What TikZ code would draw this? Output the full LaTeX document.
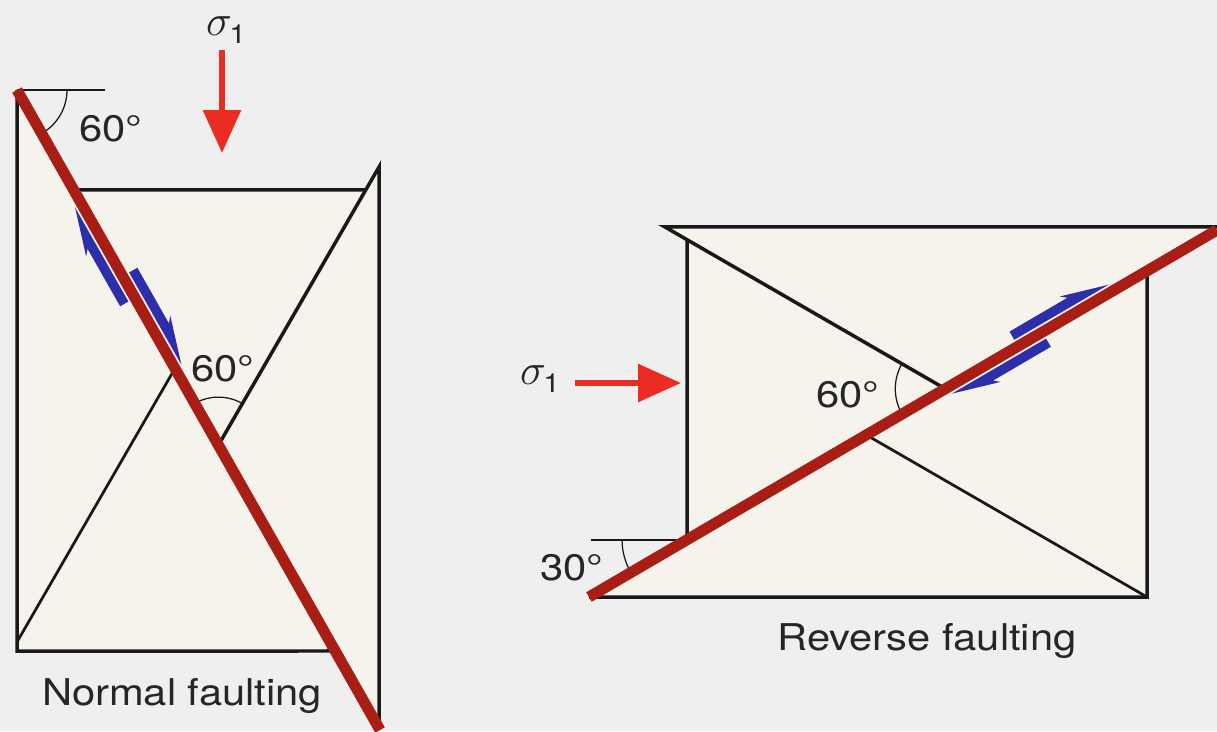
\documentclass[tikz,border=0pt]{standalone}
\usepackage{fontspec}
\setmainfont{TeX Gyre Heros}[FakeStretch=1.13]
\usetikzlibrary{arrows.meta,calc}
\definecolor{bgc}{RGB}{239,239,239}
\definecolor{blockc}{RGB}{245,243,236}
\definecolor{faultc}{RGB}{168,30,20}
\definecolor{stressc}{RGB}{234,44,34}
\definecolor{slipc}{RGB}{44,46,170}
\definecolor{textc}{RGB}{38,38,38}
\newcommand{\sigone}{{\fontsize{26}{30}\selectfont$\sigma$}\kern-1.5pt\raisebox{-5pt}{\fontsize{15}{18}\selectfont 1}}
\begin{document}
\begin{tikzpicture}[x=0.02cm,y=0.02cm,
  edge/.style={line width=0.07cm,black!90},
  refline/.style={line width=0.045cm,black!90},
  arcline/.style={line width=0.025cm,black!90},
  fault/.style={line width=0.22cm,faultc},
  stress/.style={line width=0.12cm,stressc,-{Triangle[length=0.86cm,width=0.74cm]}},
  slip/.style={fill=slipc},
  lbl/.style={inner sep=0pt,text=textc,font=\fontsize{21}{25}\selectfont}]
\fill[bgc] (0,0) rectangle (1217,731);
\useasboundingbox (0,0) rectangle (1217,731);

% ---------------- Normal faulting ----------------
\coordinate (A) at (17,641);
\coordinate (B) at (380,1);
\coordinate (HWbl) at (17,80);
\coordinate (HWr) at (420,80);
\coordinate (HWbr) at (intersection of A--B and HWbl--HWr);
\coordinate (FWl0) at (0,541);
\coordinate (FWr0) at (420,541);
\coordinate (FWtl) at (intersection of A--B and FWl0--FWr0);
\coordinate (Ctop) at (379,564);
\coordinate (Cdir) at ($(Ctop)+(240:400)$);
\coordinate (Cup) at (intersection of A--B and Ctop--Cdir);
\coordinate (FWtr) at (intersection of FWl0--FWr0 and Ctop--Cdir);
\coordinate (RB) at (379,3);
\coordinate (Clow) at (17,89);
\coordinate (Clowdir) at ($(Clow)+(60:400)$);
\coordinate (Cx) at (intersection of A--B and Clow--Clowdir);
\coordinate (Href) at (105,641);

\fill[blockc] (A) -- (HWbl) -- (HWbr) -- cycle;
\fill[blockc] (FWtl) -- (FWtr) -- (Ctop) -- (RB) -- (B) -- cycle;
\draw[edge] (A) -- (HWbl) -- (HWbr);
\draw[edge] (FWtl) -- (FWtr);
\draw[edge] (Cup) -- (Ctop) -- (RB);
\draw[edge,line width=0.055cm] (Clow) -- (Cx);
\draw[refline] (A) -- (Href);
\draw[arcline] ($(A)+(0:50)$) arc[start angle=0,end angle=-60.44,radius=50];
\draw[arcline] ($(Cup)+(60:48)$) arc[start angle=60,end angle=119.56,radius=48];
\draw[fault] (A) -- (B);

\begin{scope}[shift={(A)},rotate=-60.44]
  \fill[slip] (239,-7.5) -- (131,-7.5) -- (179,-22) -- (173,-17) -- (239,-17) -- cycle;
  \fill[slip] (214,7.5) -- (320,7.5) -- (272,22) -- (278,17) -- (214,17) -- cycle;
\end{scope}

\coordinate (S1a) at (222,681);
\coordinate (S1b) at (222,578);
\draw[stress] (S1a) -- (S1b);
\node[lbl] (sigN) at (226,701) {\sigone};
\node[lbl,anchor=base] (angN1) at (111,589) {60°};
\node[lbl,anchor=base] (angN2) at (223,349) {60°};
\node[lbl,anchor=base] (capN) at (182,26) {Normal faulting};

% ---------------- Reverse faulting ----------------
\coordinate (C) at (589,134);
\coordinate (D) at (1217,501);
\coordinate (RTL) at (665,504);
\coordinate (RTR) at (1217,504);
\coordinate (RL0) at (687,650);
\coordinate (RL1) at (687,0);
\coordinate (RLb) at (intersection of C--D and RL0--RL1);
\coordinate (RUdir) at ($(RTL)+(-30:500)$);
\coordinate (RLt) at (intersection of RTL--RUdir and RL0--RL1);
\coordinate (P) at (intersection of C--D and RTL--RUdir);
\coordinate (RBR) at (1147,134);
\coordinate (RR0) at (1147,650);
\coordinate (RRt) at (intersection of C--D and RBR--RR0);
\coordinate (RLdir) at ($(RBR)+(150:500)$);
\coordinate (Q) at (intersection of C--D and RBR--RLdir);
\coordinate (Href2) at ($(RLb)+(-96,0)$);

\fill[blockc] (RTL) -- (RTR) -- (D) -- (RLb) -- (RLt) -- cycle;
\fill[blockc] (C) -- (RBR) -- (RRt) -- cycle;
\draw[edge] (RLb) -- (RLt);
\draw[edge] (P) -- (RTL) -- (RTR);
\draw[edge] (C) -- (RBR) -- (RRt);
\draw[edge,line width=0.055cm] (RBR) -- (Q);
\draw[refline] (RLb) -- (Href2);
\draw[arcline] ($(RLb)+(180:65)$) arc[start angle=180,end angle=210.3,radius=65];
\draw[arcline] ($(P)+(150:50)$) arc[start angle=150,end angle=210.3,radius=50];
\draw[fault] (C) -- (D);

\begin{scope}[shift={(C)},rotate=30.3]
  \fill[slip] (497,7.5) -- (606,7.5) -- (558,22) -- (564,17) -- (497,17) -- cycle;
  \fill[slip] (525,-7.5) -- (416,-7.5) -- (464,-22) -- (458,-17) -- (525,-17) -- cycle;
\end{scope}

\coordinate (S2a) at (575,348);
\coordinate (S2b) at (681,348);
\draw[stress] (S2a) -- (S2b);
\node[lbl] (sigR) at (540,352) {\sigone};
\node[lbl,anchor=base] (angR1) at (848,323) {60°};
\node[lbl,anchor=base] (angR2) at (572,151) {30°};
\node[lbl,anchor=base] (capR) at (927,81) {Reverse faulting};
\end{tikzpicture}
\end{document}
